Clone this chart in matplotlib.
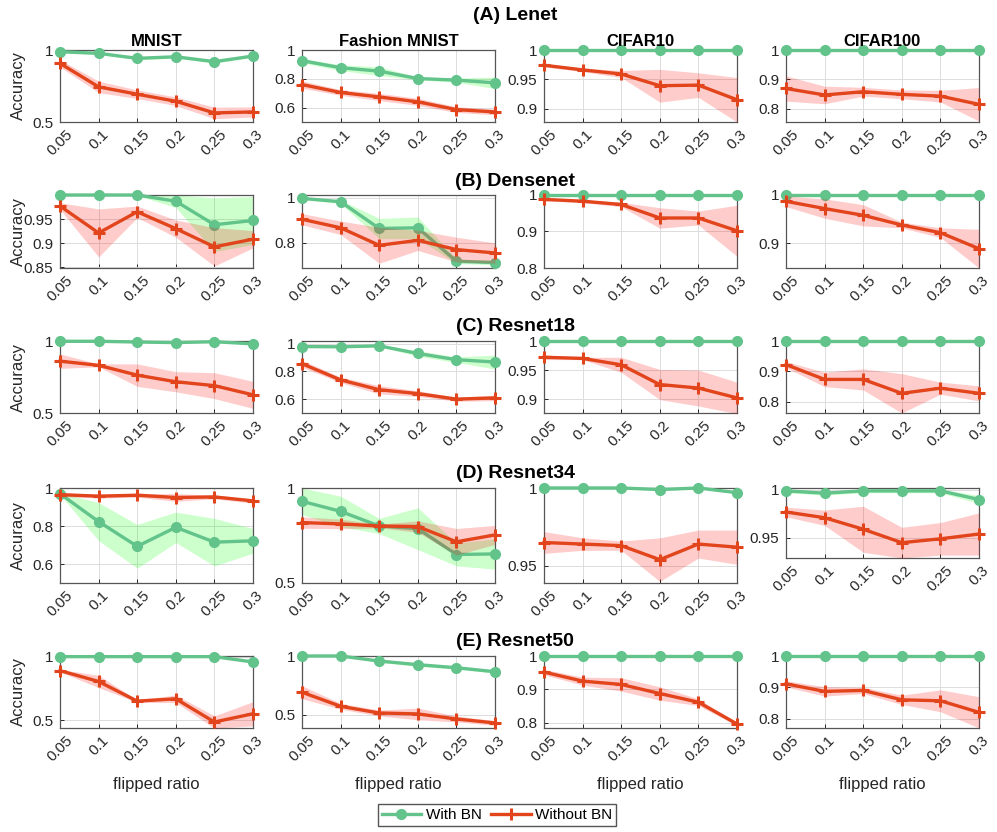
import matplotlib
matplotlib.use('Agg')
import matplotlib.pyplot as plt
from matplotlib.ticker import FormatStrFormatter

plt.rcParams['font.family'] = ['Liberation Sans', 'DejaVu Sans']

ratios = [0.05, 0.1, 0.15, 0.2, 0.25, 0.3]
ratio_labels = ['0.05', '0.1', '0.15', '0.2', '0.25', '0.3']
datasets = ['MNIST', 'Fashion MNIST', 'CIFAR10', 'CIFAR100']
models = ['(A) Lenet', '(B) Densenet', '(C) Resnet18', '(D) Resnet34', '(E) Resnet50']

# each block: one row per dataset (MNIST, Fashion MNIST, CIFAR10, CIFAR100)
lenet_bn = [[0.988, 0.977, 0.942, 0.953, 0.919, 0.958],
            [0.926, 0.877, 0.853, 0.802, 0.791, 0.772],
            [1, 1, 1, 1, 1, 1],
            [1, 1, 1, 1, 1, 1]]
lenet_bn_err = [[0.008, 0.008, 0.01, 0.01, 0.01, 0.008],
                [0.015, 0.02, 0.03, 0.01, 0.015, 0.04],
                [0.001] * 6,
                [0.001] * 6]
lenet_nobn = [[0.907, 0.744, 0.693, 0.644, 0.563, 0.570],
              [0.760, 0.705, 0.674, 0.640, 0.586, 0.570],
              [0.974, 0.966, 0.959, 0.939, 0.940, 0.915],
              [0.869, 0.847, 0.858, 0.849, 0.843, 0.815]]
lenet_nobn_err = [[0.025, 0.04, 0.03, 0.03, 0.04, 0.035],
                  [0.025, 0.02, 0.025, 0.025, 0.02, 0.02],
                  [0.003, 0.003, 0.006, 0.028, 0.021, 0.038],
                  [0.043, 0.03, 0.015, 0.015, 0.02, 0.057]]

densenet_bn = [[1, 1, 1, 0.987, 0.938, 0.947],
               [0.997, 0.982, 0.863, 0.866, 0.717, 0.711],
               [1, 1, 1, 1, 1, 1],
               [1, 1, 1, 1, 1, 1]]
densenet_bn_err = [[0.001, 0.001, 0.001, 0.013, 0.056, 0.05],
                   [0.005, 0.008, 0.045, 0.048, 0.01, 0.01],
                   [0.001] * 6,
                   [0.001] * 6]
densenet_nobn = [[0.977, 0.921, 0.965, 0.930, 0.892, 0.908],
                 [0.904, 0.866, 0.788, 0.810, 0.769, 0.754],
                 [0.988, 0.983, 0.974, 0.937, 0.937, 0.902],
                 [0.987, 0.972, 0.958, 0.938, 0.922, 0.889]]
densenet_nobn_err = [[0.007, 0.05, 0.012, 0.018, 0.04, 0.018],
                     [0.025, 0.03, 0.08, 0.045, 0.055, 0.045],
                     [0.004, 0.004, 0.006, 0.028, 0.019, 0.07],
                     [0.011, 0.02, 0.022, 0.006, 0.01, 0.04]]

resnet18_bn = [[0.998, 0.998, 0.993, 0.989, 0.995, 0.98],
               [0.98, 0.978, 0.985, 0.93, 0.885, 0.868],
               [1, 1, 1, 1, 1, 1],
               [1, 1, 1, 1, 1, 1]]
resnet18_bn_err = [[0.003] * 6,
                   [0.005, 0.005, 0.005, 0.02, 0.02, 0.05],
                   [0.001] * 6,
                   [0.001] * 6]
resnet18_nobn = [[0.86, 0.831, 0.763, 0.717, 0.69, 0.626],
                 [0.856, 0.739, 0.668, 0.64, 0.60, 0.609],
                 [0.972, 0.970, 0.959, 0.925, 0.919, 0.902],
                 [0.922, 0.873, 0.873, 0.827, 0.844, 0.827]]
resnet18_nobn_err = [[0.05, 0.01, 0.078, 0.07, 0.09, 0.094],
                     [0.025, 0.02, 0.03, 0.02, 0.015, 0.02],
                     [0.004, 0.002, 0.013, 0.026, 0.031, 0.027],
                     [0.01, 0.024, 0.035, 0.065, 0.02, 0.025]]

resnet34_bn = [[0.97, 0.823, 0.693, 0.793, 0.715, 0.722],
               [0.93, 0.877, 0.80, 0.786, 0.65, 0.653],
               [1, 1, 1, 0.999, 1, 0.997],
               [0.999, 0.9966, 0.999, 0.999, 0.999, 0.990]]
resnet34_bn_err = [[0.005, 0.1, 0.115, 0.08, 0.125, 0.065],
                   [0.07, 0.08, 0.04, 0.11, 0.06, 0.08],
                   [0.0005] * 6,
                   [0.002, 0.002, 0.002, 0.002, 0.002, 0.004]]
resnet34_nobn = [[0.965, 0.957, 0.962, 0.95, 0.953, 0.932],
                 [0.818, 0.811, 0.80, 0.797, 0.717, 0.753],
                 [0.965, 0.964, 0.963, 0.954, 0.964, 0.962],
                 [0.977, 0.971, 0.959, 0.945, 0.949, 0.954]]
resnet34_nobn_err = [[0.01, 0.01, 0.01, 0.02, 0.01, 0.012],
                     [0.03, 0.025, 0.01, 0.03, 0.07, 0.05],
                     [0.007, 0.004, 0.003, 0.014, 0.009, 0.011],
                     [0.005, 0.008, 0.024, 0.016, 0.017, 0.022]]

resnet50_bn = [[1, 1, 1, 1, 1, 0.958],
               [1, 1, 0.957, 0.926, 0.9, 0.866],
               [1, 1, 1, 1, 1, 1],
               [1, 1, 1, 1, 1, 1]]
resnet50_bn_err = [[0.001, 0.001, 0.001, 0.001, 0.001, 0.01],
                   [0.003, 0.003, 0.01, 0.015, 0.012, 0.012],
                   [0.001] * 6,
                   [0.001] * 6]
resnet50_nobn = [[0.89, 0.805, 0.651, 0.669, 0.487, 0.552],
                 [0.691, 0.571, 0.514, 0.506, 0.463, 0.429],
                 [0.952, 0.925, 0.915, 0.888, 0.862, 0.797],
                 [0.911, 0.887, 0.89, 0.86, 0.857, 0.82]]
resnet50_nobn_err = [[0.01, 0.048, 0.01, 0.03, 0.048, 0.095],
                     [0.055, 0.025, 0.025, 0.05, 0.025, 0.02],
                     [0.008, 0.012, 0.02, 0.02, 0.01, 0.005],
                     [0.01, 0.015, 0.01, 0.015, 0.035, 0.05]]

bn_all = [lenet_bn, densenet_bn, resnet18_bn, resnet34_bn, resnet50_bn]
bn_err_all = [lenet_bn_err, densenet_bn_err, resnet18_bn_err, resnet34_bn_err, resnet50_bn_err]
nobn_all = [lenet_nobn, densenet_nobn, resnet18_nobn, resnet34_nobn, resnet50_nobn]
nobn_err_all = [lenet_nobn_err, densenet_nobn_err, resnet18_nobn_err, resnet34_nobn_err, resnet50_nobn_err]

# axis limits and ticks per panel
ylims = [[(0.5, 1), (0.5, 1), (0.877, 1), (0.755, 1)],
         [(0.848, 1), (0.687, 1.012), (0.8, 1), (0.849, 1)],
         [(0.5, 1), (0.5, 1.02), (0.876, 1), (0.762, 1)],
         [(0.5, 1), (0.5, 1), (0.939, 1), (0.929, 1.002)],
         [(0.44, 1.005), (0.386, 1), (0.785, 1), (0.77, 1)]]
yticks = [[[0.5, 1], [0.6, 0.8, 1], [0.9, 0.95, 1], [0.8, 0.9, 1]],
          [[0.85, 0.9, 0.95], [0.8, 1], [0.8, 0.9, 1], [0.9, 1]],
          [[0.5, 1], [0.6, 0.8, 1], [0.9, 0.95, 1], [0.8, 0.9, 1]],
          [[0.6, 0.8, 1], [0.5, 1], [0.95, 1], [0.95, 1]],
          [[0.5, 1], [0.5, 1], [0.8, 0.9, 1], [0.8, 0.9, 1]]]

W, H = 997, 832
col_left = [60, 302, 544, 786]
ax_w = 193
row_top = [50, 195, 341, 488, 656]
row_bot = [122, 268, 413, 583, 728]
title_y = [15, 181, 326, 474, 641]

green = '#62C38B'
red = '#E2441B'

fig = plt.figure(figsize=(W / 100, H / 100), dpi=100)

for r in range(5):
    fig.text(515 / W, 1 - title_y[r] / H, models[r], ha='center', va='center',
             fontsize=14, fontweight='bold')
    for c in range(4):
        bot = row_bot[r]
        if r == 3 and c == 3:
            bot = 558
        ax = fig.add_axes([col_left[c] / W, 1 - bot / H, ax_w / W, (bot - row_top[r]) / H])
        g = bn_all[r][c]
        ge = bn_err_all[r][c]
        n = nobn_all[r][c]
        ne = nobn_err_all[r][c]
        # green band + line, then red band over them, then red line (all above the spines)
        ax.fill_between(ratios, [a - b for a, b in zip(g, ge)], [a + b for a, b in zip(g, ge)],
                        color=(0, 1, 0), alpha=0.2, lw=0, zorder=1)
        ax.plot(ratios, g, color=green, lw=2.4, marker='o', ms=7, zorder=2.6, clip_on=False)
        ax.fill_between(ratios, [a - b for a, b in zip(n, ne)], [a + b for a, b in zip(n, ne)],
                        color=(1, 0, 0), alpha=0.2, lw=0, zorder=2.7)
        ax.plot(ratios, n, color=red, lw=2.4, marker='+', ms=9, mew=2.2, zorder=2.8, clip_on=False)

        ax.set_xlim(0.05, 0.3)
        ax.set_ylim(*ylims[r][c])
        ax.set_xticks(ratios)
        ax.set_xticklabels(ratio_labels, rotation=45)
        ax.set_yticks(yticks[r][c])
        ax.yaxis.set_major_formatter(FormatStrFormatter('%g'))
        ax.tick_params(direction='in', length=3, labelsize=11, colors='#262626', width=0.7)
        ax.tick_params(axis='y', pad=5)
        ax.tick_params(axis='x', pad=4)
        ax.grid(True, color='#dcdcdc', lw=0.7)
        ax.set_axisbelow(True)
        for s in ax.spines.values():
            s.set_color('#555555')
            s.set_linewidth(0.9)
        if r == 0:
            ax.set_title(datasets[c], fontsize=12, fontweight='bold', pad=3)
        if c == 0:
            fig.text(18 / W, 1 - (row_top[r] + bot) / 2 / H, 'Accuracy', rotation=90,
                     ha='center', va='center', fontsize=12, color='#262626')
        if r == 4:
            fig.text((col_left[c] + ax_w / 2) / W, 1 - 785 / H, 'flipped ratio',
                     ha='center', va='center', fontsize=12, color='#262626')
        if r == 0 and c == 0:
            h1, = ax.plot([], [], color=green, lw=2.4, marker='o', ms=7)
            h2, = ax.plot([], [], color=red, lw=2.4, marker='+', ms=9, mew=2.2)

leg = fig.legend([h1, h2], ['With BN', 'Without BN'], loc='center', ncol=2,
                 bbox_to_anchor=(497 / W, 1 - 815 / H), fontsize=11, handlelength=2.6,
                 fancybox=False, framealpha=1, edgecolor='#555555', borderpad=0.25,
                 columnspacing=0.6, handletextpad=0.3, borderaxespad=0)

fig.savefig('out.png', dpi=100)
